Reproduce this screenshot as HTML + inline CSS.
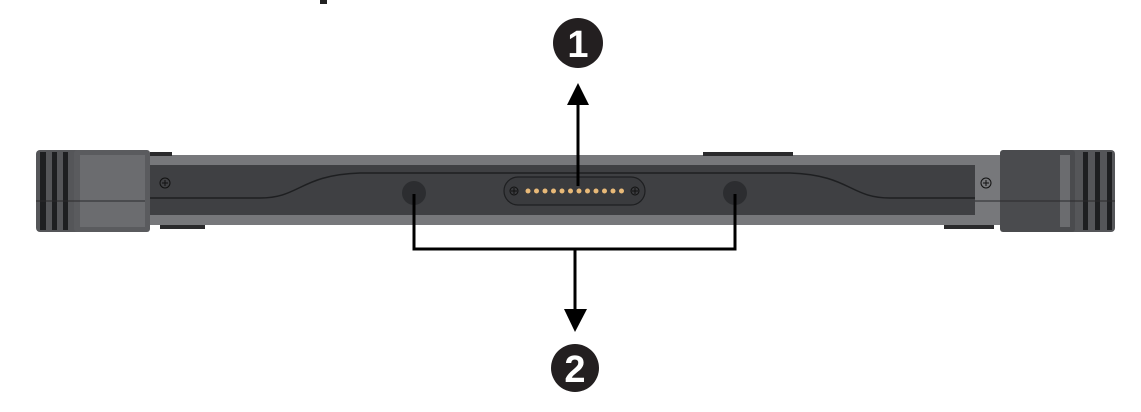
<!DOCTYPE html>
<html><head><style>html,body{margin:0;padding:0;background:#fff;}</style></head>
<body>
<svg width="1141" height="412" viewBox="0 0 1141 412" xmlns="http://www.w3.org/2000/svg" style="display:block">
<rect x="320" y="0" width="7" height="4" fill="#222"/>
<!-- main bar -->
<rect x="140" y="155" width="870" height="70" fill="#77787b"/>
<rect x="145" y="165" width="830" height="50" fill="#3f4043"/>
<path d="M145 198 L260 198 C300 198 300 175 360 173 L790 173 C850 175 850 198 890 198 L975 198" fill="none" stroke="#1e1f21" stroke-width="1.5"/>
<rect x="150" y="152" width="22" height="4" fill="#2a2a2c"/>
<rect x="160" y="225" width="45" height="4" fill="#2a2a2c"/>
<rect x="703" y="152" width="90" height="4" fill="#2a2a2c"/>
<rect x="944" y="225" width="50" height="4" fill="#2a2a2c"/>
<!-- left bumper -->
<rect x="36" y="150" width="50" height="82" rx="4" fill="#555659"/>
<rect x="40" y="152" width="6" height="78" fill="#1e1f21"/>
<rect x="52" y="152" width="5" height="78" fill="#1e1f21"/>
<rect x="63" y="152" width="5" height="78" fill="#1e1f21"/>
<rect x="74" y="150" width="76" height="82" rx="3" fill="#5a5b5e"/>
<rect x="80" y="155" width="65" height="72" fill="#6b6c6f"/>
<line x1="36" y1="201" x2="145" y2="201" stroke="#2a2a2c" stroke-width="1"/>
<!-- right bumper -->
<rect x="1060" y="150" width="55" height="82" rx="4" fill="#555659"/>
<rect x="1107" y="152" width="5" height="78" fill="#1e1f21"/>
<rect x="1095" y="152" width="5" height="78" fill="#1e1f21"/>
<rect x="1083" y="152" width="5" height="78" fill="#1e1f21"/>
<rect x="1000" y="150" width="75" height="82" rx="3" fill="#4a4b4e"/>
<rect x="1060" y="155" width="10" height="72" fill="#6b6c6f"/>
<line x1="975" y1="201" x2="1115" y2="201" stroke="#2a2a2c" stroke-width="1"/>
<!-- screws -->
<g fill="none" stroke="#111" stroke-width="1"><circle cx="165" cy="183" r="5"/><path d="M162 183h6M165 180v6"/>
<circle cx="986" cy="183" r="5"/><path d="M983 183h6M986 180v6"/></g>
<!-- connector -->
<rect x="504" y="177" width="141" height="28" rx="14" fill="#3a3b3e" stroke="#1e1f21" stroke-width="1.2"/>
<g fill="none" stroke="#111" stroke-width="1"><circle cx="514" cy="191" r="4"/><path d="M511 191h6M514 188v6"/>
<circle cx="635" cy="191" r="4"/><path d="M632 191h6M635 188v6"/></g>
<g fill="#e8b978">
<circle cx="528" cy="191" r="2.5"/><circle cx="536.5" cy="191" r="2.5"/><circle cx="545" cy="191" r="2.5"/><circle cx="553.5" cy="191" r="2.5"/><circle cx="562" cy="191" r="2.5"/><circle cx="570.5" cy="191" r="2.5"/><circle cx="579" cy="191" r="2.5"/><circle cx="587.5" cy="191" r="2.5"/><circle cx="596" cy="191" r="2.5"/><circle cx="604.5" cy="191" r="2.5"/><circle cx="613" cy="191" r="2.5"/><circle cx="621.5" cy="191" r="2.5"/></g>
<circle cx="414" cy="193" r="12" fill="#2c2d30"/>
<circle cx="735" cy="193" r="12" fill="#2c2d30"/>
<!-- arrow up -->
<line x1="578" y1="186" x2="578" y2="104" stroke="#000" stroke-width="3"/>
<polygon points="567,105 589,105 578,83" fill="#000"/>
<circle cx="578" cy="43" r="25" fill="#231f20"/>
<text x="578" y="57" text-anchor="middle" font-family="Liberation Sans, sans-serif" font-weight="bold" font-size="38" fill="#fff">1</text>
<!-- bracket -->
<path d="M414 194 V249 H735 V194" fill="none" stroke="#000" stroke-width="3"/>
<line x1="575" y1="249" x2="575" y2="312" stroke="#000" stroke-width="3"/>
<polygon points="564,309 587,309 575,332" fill="#000"/>
<circle cx="575" cy="368" r="24" fill="#231f20"/>
<text x="575" y="382" text-anchor="middle" font-family="Liberation Sans, sans-serif" font-weight="bold" font-size="38" fill="#fff">2</text>
</svg>
</body></html>
